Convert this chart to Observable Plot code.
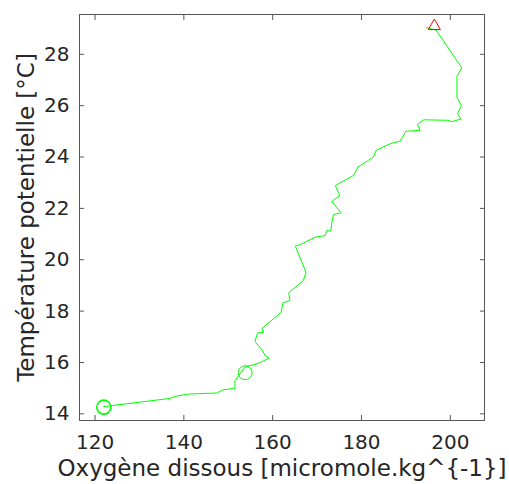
<!DOCTYPE html>
<html>
<head>
<meta charset="utf-8">
<script src="https://cdn.jsdelivr.net/npm/d3@7"></script>
<script src="https://cdn.jsdelivr.net/npm/@observablehq/plot@0.6"></script>
<style>
  html, body { margin: 0; padding: 0; background: #fff; }
  #chart svg { display: block; }
</style>
</head>
<body>
<div id="chart"></div>
<script>
// Profile: dissolved oxygen vs potential temperature (from surface down)
const oxygen = [194.6, 196.8, 202.6, 201.5, 201.5, 202.5, 201.6, 202.4, 200.4, 199.4, 194.0, 192.6, 193.2,
  190.0, 188.7, 186.5, 183.3, 182.7, 179.2, 178.2, 174.1, 175.1, 173.3, 175.4, 173.7, 173.3, 173.1,
  172.2, 171.8, 169.6, 166.6, 165.1, 167.5, 166.9, 163.6, 163.9, 162.3, 161.9, 160.6, 157.6, 157.9,
  156.6, 156.0, 157.6, 158.3, 159.2, 157.2, 155.7, 153.8, 151.5, 151.5, 148.9, 147.4, 141.0, 138.0,
  136.9, 121.9];
const temperature = [29.04, 28.94, 27.47, 27.15, 26.33, 26.0, 25.69, 25.48, 25.38, 25.43, 25.45, 25.27, 25.04,
  25.0, 24.62, 24.52, 24.26, 24.0, 23.61, 23.28, 22.89, 22.50, 22.27, 21.83, 21.76, 21.42, 21.11,
  21.14, 20.94, 20.88, 20.62, 20.53, 19.51, 19.19, 18.71, 18.41, 18.32, 17.95, 17.76, 17.33, 17.17,
  17.15, 16.82, 16.49, 16.27, 16.17, 16.0, 15.91, 15.83, 15.29, 14.99, 14.94, 14.81, 14.77, 14.68,
  14.60, 14.28];

// Markers
const circleO2 = [121.96, 153.8];
const circleT = [14.26, 15.60];
const circleWidth = [1.6, 1];
const triangleO2 = [196.4];
const triangleT = [29.1];

const xTicks = [120, 140, 160, 180, 200];
const yTicks = [14, 16, 18, 20, 22, 24, 26, 28];
const xLabel = "Oxygène dissous [micromole.kg^{-1}]";
const yLabel = "Température potentielle [°C]";

const profile = oxygen.map((o, i) => ({o2: o, t: temperature[i]}));
const circles = circleO2.map((o, i) => ({o2: o, t: circleT[i], w: circleWidth[i]}));
const triangles = triangleO2.map((o, i) => ({o2: o, t: triangleT[i]}));

const axisColor = "#555";
const textColor = "#262626";

const chart = Plot.plot({
  width: 509,
  height: 484,
  marginLeft: 79,
  marginRight: 25,
  marginTop: 14,
  marginBottom: 64,
  style: {fontFamily: "DejaVu Sans", fontSize: "20px", color: textColor, background: "#fff"},
  x: {domain: [116.5, 207.7], label: null},
  y: {domain: [13.74, 29.55], label: null},
  marks: [
    Plot.axisX(xTicks, {anchor: "bottom", tickSize: -5, tickPadding: 19, stroke: axisColor, fill: textColor, fontSize: 20, label: null}),
    Plot.axisX(xTicks, {anchor: "top", tickSize: -5, stroke: axisColor, tickFormat: () => "", label: null}),
    Plot.axisY(yTicks, {anchor: "left", tickSize: -5, tickPadding: 15, stroke: axisColor, fill: textColor, fontSize: 20, label: null}),
    Plot.axisY(yTicks, {anchor: "right", tickSize: -5, stroke: axisColor, tickFormat: () => "", label: null}),
    Plot.frame({stroke: axisColor, strokeWidth: 1}),
    Plot.line(profile, {x: "o2", y: "t", stroke: "#00ff00", strokeWidth: 1, curve: "linear"}),
    Plot.dot(circles, {x: "o2", y: "t", r: 7, stroke: "#00ff00", strokeWidth: d => d.w, fill: "none"}),
    Plot.dot(triangles, {x: "o2", y: "t", symbol: "triangle", r: 4.5, stroke: "#ff0000", strokeWidth: 1, fill: "none"}),
    Plot.text([xLabel], {text: d => d, frameAnchor: "bottom", textAnchor: "middle", lineAnchor: "middle", dy: 48, fontSize: 23, fill: textColor}),
    Plot.text([yLabel], {text: d => d, frameAnchor: "left", textAnchor: "middle", lineAnchor: "middle", rotate: -90, dx: -53, fontSize: 23, fill: textColor})
  ]
});
document.getElementById("chart").appendChild(chart);
</script>
</body>
</html>
